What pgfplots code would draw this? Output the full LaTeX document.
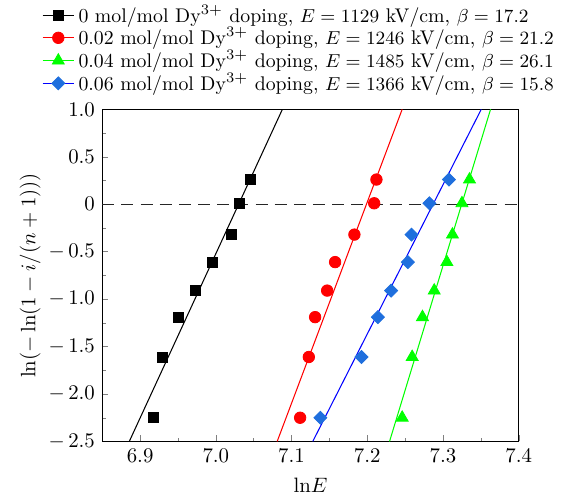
\documentclass[border=0pt]{standalone}
\usepackage{pgfplots}
\pgfplotsset{compat=1.18}
\definecolor{dblue}{RGB}{31,111,221}
\definecolor{lgreen}{RGB}{0,255,0}
\begin{document}
\begin{tikzpicture}
\begin{axis}[
    scale only axis, width=200pt, height=159.5pt,
    xmin=6.85, xmax=7.4, ymin=-2.5, ymax=1.0,
    xtick={6.9,7.0,7.1,7.2,7.3,7.4},
    xticklabels={6.9,7.0,7.1,7.2,7.3,7.4},
    ytick={-2.5,-2.0,-1.5,-1.0,-0.5,0,0.5,1.0},
    yticklabels={$-\,2.5$,$-\,2.0$,$-\,1.5$,$-\,1.0$,$-\,0.5$,$0$,$0.5$,$1.0$},
    minor x tick num=1, minor y tick num=1,
    tick align=inside, tick pos=left,
    major tick length=3pt, minor tick length=1.8pt,
    xlabel={$\mathrm{ln}E$}, ylabel={$\ln(-\ln(1-i/(n+1)))$},
    ylabel shift=-3pt,
    legend style={draw=none, fill=none, at={(-0.16,1.021)}, anchor=south west,
        row sep=-2.9pt, font=\fontsize{9.5pt}{11.4pt}\selectfont},
    legend cell align=left,
    legend image code/.code={
        \draw[mark repeat=2, mark phase=2, #1, sharp plot]
            plot coordinates {(0pt,0pt) (7.5pt,0pt) (15pt,0pt)};},
]
\addplot[only marks, black, mark=square*, mark size=2.4pt] coordinates {
    (6.918,-2.25) (6.930,-1.61) (6.950,-1.19) (6.9725,-0.91)
    (6.996,-0.61) (7.021,-0.32) (7.031,0.01) (7.046,0.26)
};
\addlegendentry{0 mol/mol Dy$^{3+}$ doping, $E=1129$ kV/cm, $\beta=17.2$}
\addplot[only marks, red, mark=*, mark size=2.75pt] coordinates {
    (7.1113,-2.25) (7.1228,-1.61) (7.1311,-1.19) (7.1470,-0.91)
    (7.1575,-0.61) (7.1830,-0.32) (7.2091,0.01) (7.2121,0.26)
};
\addlegendentry{0.02 mol/mol Dy$^{3+}$ doping, $E=1246$ kV/cm, $\beta=21.2$}
\addplot[only marks, lgreen, mark=triangle*, mark size=3.3pt] coordinates {
    (7.2461,-2.25) (7.2593,-1.61) (7.2729,-1.19) (7.2884,-0.91)
    (7.3051,-0.61) (7.3125,-0.32) (7.3250,0.01) (7.3350,0.26)
};
\addlegendentry{0.04 mol/mol Dy$^{3+}$ doping, $E=1485$ kV/cm, $\beta=26.1$}
\addplot[only marks, blue, mark=square*, mark size=2.2pt,
    mark options={rotate=45, draw=dblue, fill=dblue}] coordinates {
    (7.1381,-2.25) (7.1923,-1.61) (7.2140,-1.19) (7.2315,-0.91)
    (7.2536,-0.61) (7.2584,-0.32) (7.2821,0.01) (7.3078,0.26)
};
\addlegendentry{0.06 mol/mol Dy$^{3+}$ doping, $E=1366$ kV/cm, $\beta=15.8$}
% fitted lines
\addplot[black, line width=0.5pt, forget plot] coordinates {(6.8857,-2.5) (7.0879,1.0)};
\addplot[red, line width=0.5pt, forget plot] coordinates {(7.0810,-2.5) (7.2461,1.0)};
\addplot[lgreen, line width=0.5pt, forget plot] coordinates {(7.2294,-2.5) (7.3628,1.0)};
\addplot[blue, line width=0.5pt, forget plot] coordinates {(7.1280,-2.5) (7.3505,1.0)};
\addplot[black!85, line width=0.6pt, dash pattern=on 5.8pt off 3.4pt, forget plot]
    coordinates {(6.85,0) (7.4,0)};
\end{axis}
\pgfresetboundingbox
\path[use as bounding box] (-49.1pt,-25.9pt) rectangle (227.5pt,212pt);
\end{tikzpicture}
\end{document}
